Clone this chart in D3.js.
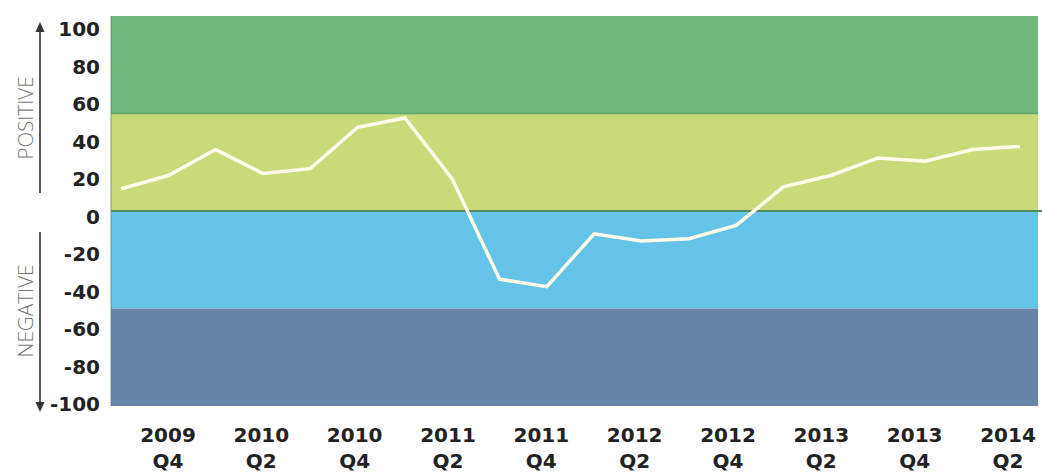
<!DOCTYPE html>
<html>
<head>
<meta charset="utf-8">
<script src="https://cdn.jsdelivr.net/npm/d3@7"></script>
<style>
  body { margin: 0; background: #fff; }
  svg { display: block; }
</style>
</head>
<body>
<div id="graph"></div>
<script>
// quarters on the x axis, one value per quarter
const quarters = [
  "2009 Q3", "2009 Q4",
  "2010 Q1", "2010 Q2", "2010 Q3", "2010 Q4",
  "2011 Q1", "2011 Q2", "2011 Q3", "2011 Q4",
  "2012 Q1", "2012 Q2", "2012 Q3", "2012 Q4",
  "2013 Q1", "2013 Q2", "2013 Q3", "2013 Q4",
  "2014 Q1", "2014 Q2"
];
const values = [
  11.4, 18.2, 31.5, 19.2, 21.7, 42.9, 47.7, 16.5, -35.0, -38.8,
  -11.7, -15.4, -14.2, -7.4, 12.4, 18.2, 27.2, 25.5, 31.5, 33.1
];
// labelled quarters (every second one)
const xTickLabels = [
  "2009 Q4", "2010 Q2", "2010 Q4", "2011 Q2", "2011 Q4",
  "2012 Q2", "2012 Q4", "2013 Q2", "2013 Q4", "2014 Q2"
];
const yTickValues = [100, 80, 60, 40, 20, 0, -20, -40, -60, -80, -100];
// background bands: [from, to] and their colours
const bandRanges = [[50, 100], [0, 50], [-50, 0], [-100, -50]];
const bandColors = ["#6fb87c", "#c9da7b", "#64c3e6", "#6684aa"];

const W = 1042, H = 472;
const plot = { left: 111, right: 1038, top: 16, bottom: 406 };

const svg = d3.select("#graph").append("svg")
  .attr("width", W).attr("height", H);

// y scale for the plotted marks
const y = d3.scaleLinear().domain([-100, 100]).range([plot.bottom, plot.top]);
// tick labels sit on a slightly tighter scale in the original
const yLab = d3.scaleLinear().domain([-100, 100]).range([404, 29]);

const x = d3.scalePoint().domain(quarters).range([121, 1020]);
const xLab = d3.scalePoint().domain(xTickLabels).range([168, 1008]);

// bands
svg.append("g").selectAll("rect")
  .data(bandRanges)
  .enter().append("rect")
  .attr("x", plot.left)
  .attr("width", plot.right - plot.left)
  .attr("y", d => y(d[1]))
  .attr("height", d => y(d[0]) - y(d[1]))
  .attr("fill", (d, i) => bandColors[i]);

// thin darker edges
svg.append("line")
  .attr("x1", plot.left).attr("x2", plot.left)
  .attr("y1", plot.top).attr("y2", plot.bottom)
  .attr("stroke", "#5c7f6a").attr("stroke-opacity", 0.5).attr("stroke-width", 1.5);
svg.append("line")
  .attr("x1", plot.left).attr("x2", plot.right)
  .attr("y1", y(50)).attr("y2", y(50))
  .attr("stroke", "#63a56f").attr("stroke-width", 1.5);

// zero line
svg.append("line")
  .attr("x1", plot.left).attr("x2", plot.right + 4)
  .attr("y1", y(0)).attr("y2", y(0))
  .attr("stroke", "#4f8a62").attr("stroke-width", 2);

// the index line
const line = d3.line()
  .x((d, i) => x(quarters[i]))
  .y(d => y(d));
svg.append("path")
  .datum(values)
  .attr("d", line)
  .attr("fill", "none")
  .attr("stroke", "#fffcea")
  .attr("stroke-width", 3.5)
  .attr("stroke-linejoin", "miter");

// y tick labels
svg.append("g").selectAll("text")
  .data(yTickValues)
  .enter().append("text")
  .attr("x", 100)
  .attr("y", d => yLab(d))
  .attr("dy", "0.36em")
  .attr("text-anchor", "end")
  .style("font-family", "'DejaVu Sans', sans-serif")
  .style("font-weight", "bold")
  .style("font-size", "20px")
  .style("fill", "#222")
  .text(d => d);

// x tick labels, two lines each
const xt = svg.append("g").selectAll("text")
  .data(xTickLabels)
  .enter().append("text")
  .attr("text-anchor", "middle")
  .style("font-family", "'DejaVu Sans', sans-serif")
  .style("font-weight", "bold")
  .style("font-size", "20px")
  .style("fill", "#222");
xt.append("tspan")
  .attr("x", d => xLab(d))
  .attr("y", 442)
  .text(d => d.split(" ")[0]);
xt.append("tspan")
  .attr("x", d => xLab(d))
  .attr("y", 468)
  .text(d => d.split(" ")[1]);

// direction arrows on the left
const arrows = svg.append("g").attr("stroke", "#333").attr("fill", "#333");
arrows.append("line").attr("x1", 40).attr("x2", 40).attr("y1", 30).attr("y2", 193).attr("stroke-width", 1.6);
arrows.append("path").attr("d", "M40,22 L35.5,32 L44.5,32 Z").attr("stroke", "none");
arrows.append("line").attr("x1", 40).attr("x2", 40).attr("y1", 232).attr("y2", 404).attr("stroke-width", 1.6);
arrows.append("path").attr("d", "M40,412 L35.5,402 L44.5,402 Z").attr("stroke", "none");

// rotated side labels
const sideLabels = [
  { text: "POSITIVE", cy: 118, len: 83 },
  { text: "NEGATIVE", cy: 311, len: 93 }
];
svg.append("g").selectAll("text")
  .data(sideLabels)
  .enter().append("text")
  .attr("transform", d => "translate(33," + d.cy + ") rotate(-90)")
  .attr("text-anchor", "middle")
  .attr("textLength", d => d.len)
  .attr("lengthAdjust", "spacingAndGlyphs")
  .style("font-family", "'Open Sans', sans-serif")
  .style("font-weight", 300)
  .style("font-size", "20px")
  .style("fill", "#777")
  .text(d => d.text);
</script>
</body>
</html>
